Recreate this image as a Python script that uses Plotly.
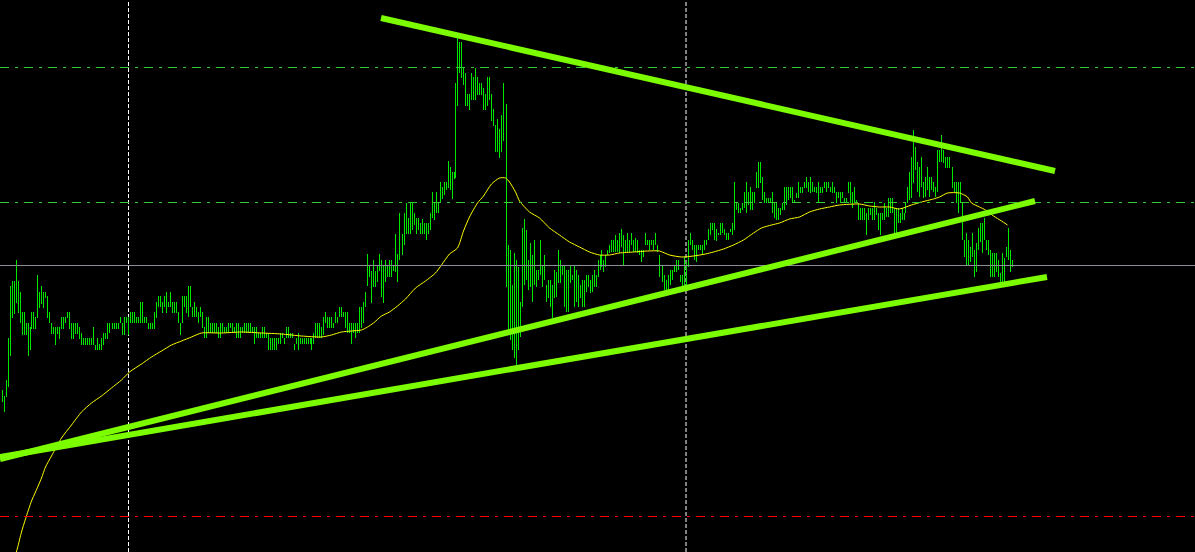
import plotly.graph_objects as go

# ---- price bars (one per period, oldest first) ----
bar_high = [
    162,156,172,214,266,271,271,292,271,260,240,240,229,229,225,
    240,240,235,277,260,266,260,260,256,240,229,225,225,225,225,
    235,235,235,240,240,229,229,229,229,225,219,214,214,214,214,
    214,225,207,214,208,214,219,219,229,229,229,229,229,229,235,
    229,235,235,235,240,240,240,235,235,250,250,235,235,229,229,
    229,240,250,256,256,250,256,260,250,260,250,250,250,240,229,
    256,256,256,266,266,245,250,245,240,245,240,225,235,235,229,
    229,229,229,225,229,229,225,225,229,229,229,225,229,229,225,
    225,229,229,229,229,225,225,225,219,219,225,225,219,219,214,
    214,214,214,214,219,219,214,225,225,219,219,208,214,219,214,
    214,214,214,214,214,214,219,229,229,229,225,235,240,235,235,
    235,229,240,235,245,245,240,240,240,229,229,229,229,229,245,
    245,250,260,298,286,281,292,281,286,298,292,286,292,286,292,
    292,286,318,298,339,318,339,349,334,349,349,339,334,334,329,
    333,329,329,329,339,360,349,360,350,370,365,370,370,391,385,
    380,380,469,514,510,510,485,479,458,458,479,475,484,475,469,
    469,464,458,475,475,458,443,427,433,423,437,469,448,307,302,
    267,299,292,285,250,324,333,322,292,309,297,312,282,282,312,
    287,297,267,272,272,267,282,280,302,292,287,287,282,282,287,
    277,287,282,277,267,272,272,277,277,272,277,282,277,292,297,
    302,292,297,302,307,312,312,317,312,319,323,317,312,319,312,
    319,312,314,312,302,302,302,319,312,312,312,312,319,307,297,
    287,277,272,277,282,282,287,292,292,277,277,295,290,312,319,
    312,307,307,307,307,307,312,312,323,329,329,329,323,319,329,
    329,323,319,319,323,329,370,349,349,344,349,360,370,360,365,
    360,360,380,390,390,375,360,354,354,354,360,349,350,344,344,
    349,365,365,365,365,365,352,359,370,365,365,370,375,370,375,
    370,365,365,370,365,365,370,370,370,365,370,365,360,360,360,
    360,354,354,370,370,360,365,352,349,344,344,344,339,344,344,
    344,350,344,339,339,339,349,344,354,354,354,344,344,344,339,
    344,339,349,365,380,395,422,405,390,385,395,370,375,385,375,
    375,370,365,402,402,417,402,395,395,395,385,370,370,370,370,
    349,312,319,312,305,319,302,309,324,329,329,334,312,312,302,
    299,299,299,292,279,299,294,305,324,302,292,
]
bar_low = [
    150,140,155,165,196,234,238,249,239,229,217,217,217,196,202,
    223,223,223,234,244,248,244,254,234,229,218,218,207,218,213,
    223,223,229,234,223,213,213,218,218,213,207,207,207,207,207,
    207,207,202,202,202,202,207,213,213,219,223,223,223,223,229,
    217,217,229,217,229,229,229,229,229,229,229,229,229,223,223,
    223,223,234,245,245,239,245,239,245,245,239,239,239,229,217,
    229,245,239,235,245,235,235,235,229,235,224,214,214,219,219,
    219,219,219,214,214,219,219,219,219,224,219,219,214,214,214,
    219,219,219,219,219,219,208,214,214,214,214,214,214,202,202,
    202,202,202,208,208,214,208,214,214,214,214,202,208,202,208,
    208,208,208,208,208,202,208,214,214,214,214,217,229,224,224,
    224,224,229,229,235,235,235,224,219,219,208,219,214,219,219,
    224,229,245,266,275,249,265,265,270,281,255,249,270,275,275,
    275,281,280,270,292,297,307,318,318,318,322,327,318,322,318,
    318,318,312,318,322,334,332,339,339,349,353,357,362,364,362,
    353,373,374,446,479,474,467,446,446,442,452,452,452,457,457,
    457,442,442,446,452,431,426,400,400,394,400,411,265,222,212,
    202,194,187,202,215,245,267,272,262,265,250,267,265,272,277,
    265,272,250,254,245,234,254,255,269,269,277,245,240,240,269,
    272,245,250,245,254,245,245,260,265,259,260,265,265,275,282,
    285,280,285,297,299,300,300,300,300,299,305,287,300,300,300,
    307,300,300,299,297,290,295,307,307,302,307,302,307,300,275,
    270,262,262,262,267,272,280,280,282,270,265,265,267,285,307,
    302,292,290,302,302,297,302,307,312,317,322,312,311,317,317,
    319,317,312,312,320,317,322,342,339,339,342,344,339,347,342,
    342,349,364,364,369,352,349,349,349,349,339,334,332,332,337,
    342,342,347,352,354,349,349,354,354,359,359,364,364,360,359,
    360,360,359,349,359,359,364,360,364,360,359,359,349,354,349,
    354,349,349,359,349,344,349,349,332,332,332,332,317,332,337,
    332,332,337,322,317,332,332,335,335,339,339,319,319,329,329,
    332,332,339,349,352,354,369,382,360,355,365,354,355,362,355,
    362,360,355,360,390,390,389,384,384,384,364,360,349,339,349,
    312,295,287,287,290,295,275,280,302,310,299,312,302,297,275,
    275,275,280,275,269,269,269,295,292,280,285,
]

# ---- moving average (period index, value) ----
ma_index = [7,8,10,12,15,17,20,22,25,30,35,40,45,50,55,60,64,70,75,80,
            85,90,95,100,110,120,130,140,150,160,165,170,175,180,183,186,190,194,198,202,
            207,212,217,220,224,228,231,234,238,241,245,249,252,254,257,259,264,269,274,279,
            284,289,294,299,304,309,316,323,329,334,340,346,352,356,361,366,371,376,380,385,
            389,394,399,404,409,414,419,429,434,439,444,449,455,460,466,469,473,479,483,485,
            489,492,496,500,503]
ma_value = [-3,4,20,33,51,60,74,85,96,114,127,140,149,156,164,172,180,188,195,201,
            207,211,215,219,219,220,219,218,216,215,217,220,221,222,225,229,236,240,246,253,
            264,271,279,287,298,304,321,335,349,356,368,374,374,370,360,351,340,334,324,317,
            310,305,300,297,297,299,300,301,301,297,295,296,298,300,303,307,312,319,324,327,
            329,333,335,340,343,345,347,348,346,345,345,343,347,350,353,355,359,359,355,349,
            345,342,336,331,327]

# ---- trend lines: (start index, start price, end index, end price) ----
trend_top = (189.75, 534, 526.75, 381)
trend_mid = (-0.75, 93, 516.75, 351)
trend_low = (-0.75, 95, 522.75, 275)

# ---- horizontal levels ----
level_upper = 484.5
level_middle = 349.5
level_price = 286.5
level_lower = 35.5

# ---- time grid ----
grid_periods = [63.5, 342.25]

# ---- screen column phase of the bar runs (layout only): runs drawn half a slot later ----
phase_runs = [(0, 15), (55, 155), (200, 227), (252, 300), (330, 452), (475, 506)]

BAR_COLOR = "#00e600"
TREND_COLOR = "#7cfc00"


def bar_position(i):
    for a, b in phase_runs:
        if a <= i < b:
            return i + 0.5
    return i


bx, by = [], []
for i, (h, l) in enumerate(zip(bar_high, bar_low)):
    p = bar_position(i)
    bx += [p, p, None]
    by += [l, h, None]

fig = go.Figure()
fig.add_trace(go.Scatter(x=bx, y=by, mode="lines",
                         line=dict(color=BAR_COLOR, width=1),
                         hoverinfo="skip", showlegend=False))
fig.add_trace(go.Scatter(x=ma_index, y=ma_value, mode="lines",
                         line=dict(color="#ffff00", width=1, shape="spline", smoothing=0.6),
                         hoverinfo="skip", showlegend=False))

shapes = []
for g in grid_periods:
    shapes.append(dict(type="line", xref="x", yref="paper", x0=g, x1=g, y0=0, y1=1,
                       line=dict(color="#ffffff", width=1, dash="4px,2px"), layer="below"))
for lvl, col in [(level_upper, "#32cd32"), (level_middle, "#32cd32"), (level_lower, "#ff0000")]:
    shapes.append(dict(type="line", xref="paper", yref="y", x0=0, x1=1, y0=lvl, y1=lvl,
                       line=dict(color=col, width=1, dash="9px,6px,3px,6px"), layer="above"))
shapes.append(dict(type="line", xref="paper", yref="y", x0=0, x1=1, y0=level_price, y1=level_price,
                   line=dict(color="#8c8c96", width=1), layer="above"))
for (x0, y0, x1, y1) in [trend_top, trend_mid, trend_low]:
    shapes.append(dict(type="line", xref="x", yref="y", x0=x0, y0=y0, x1=x1, y1=y1,
                       line=dict(color=TREND_COLOR, width=6), layer="above"))

fig.update_layout(
    width=1195, height=552,
    margin=dict(l=0, r=0, t=0, b=0),
    paper_bgcolor="#000000", plot_bgcolor="#000000",
    showlegend=False, shapes=shapes,
    xaxis=dict(range=[-0.75, 596.75], visible=False, showgrid=False, zeroline=False, fixedrange=True),
    yaxis=dict(range=[0, 552], visible=False, showgrid=False, zeroline=False, fixedrange=True),
)

fig.write_html(
    "out.html",
    config={"displayModeBar": False},
    post_script="document.body.style.margin='0';document.body.style.padding='0';"
                "document.body.style.background='#000000';document.body.style.overflow='hidden';",
)
